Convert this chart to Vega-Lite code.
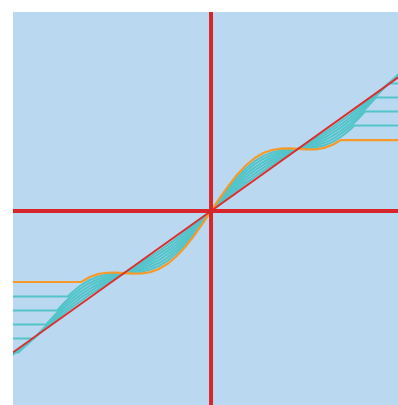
{
  "$schema": "https://vega.github.io/schema/vega-lite/v6.json",
  "width": 387,
  "height": 395,
  "padding": {"left": 11, "top": 10, "right": 0, "bottom": 0},
  "background": "white",
  "config": {"view": {"stroke": null, "fill": "#bad8ef"}},
  "datasets": {
    "curves": [
      {"x": -2.3, "o": -1.143, "c1": -1.377, "c2": -1.602, "c3": -1.828, "c4": -2.053, "c5": -2.278, "c6": -2.34},
      {"x": -2.214, "c5": -2.278},
      {"x": -2.2, "o": -1.143, "c1": -1.377, "c2": -1.602, "c3": -1.828, "c4": -2.053, "c5": -2.259, "c6": -2.229},
      {"x": -2.1, "o": -1.143, "c1": -1.377, "c2": -1.602, "c3": -1.828, "c4": -2.053, "c5": -2.131, "c6": -2.115},
      {"x": -2.036, "c4": -2.053},
      {"x": -2.0, "o": -1.143, "c1": -1.377, "c2": -1.602, "c3": -1.828, "c4": -2.0, "c5": -2.0, "c6": -2.0},
      {"x": -1.9, "o": -1.143, "c1": -1.377, "c2": -1.602, "c3": -1.828, "c4": -1.854, "c5": -1.869, "c6": -1.885},
      {"x": -1.894, "c3": -1.828},
      {"x": -1.8, "o": -1.143, "c1": -1.377, "c2": -1.602, "c3": -1.682, "c4": -1.712, "c5": -1.741, "c6": -1.771},
      {"x": -1.768, "c2": -1.602},
      {"x": -1.7, "o": -1.143, "c1": -1.377, "c2": -1.498, "c3": -1.538, "c4": -1.579, "c5": -1.619, "c6": -1.66},
      {"x": -1.646, "c1": -1.377},
      {"x": -1.6, "o": -1.143, "c1": -1.315, "c2": -1.362, "c3": -1.41, "c4": -1.457, "c5": -1.505, "c6": -1.552},
      {"x": -1.5, "o": -1.143, "c1": -1.2, "c2": -1.25, "c3": -1.3, "c4": -1.35, "c5": -1.4, "c6": -1.45},
      {"x": -1.49, "o": -1.143},
      {"x": -1.4, "o": -1.067, "c1": -1.115, "c2": -1.162, "c3": -1.21, "c4": -1.257, "c5": -1.305, "c6": -1.352},
      {"x": -1.3, "o": -1.017, "c1": -1.057, "c2": -1.098, "c3": -1.138, "c4": -1.179, "c5": -1.219, "c6": -1.26},
      {"x": -1.2, "o": -0.994, "c1": -1.024, "c2": -1.053, "c3": -1.082, "c4": -1.112, "c5": -1.141, "c6": -1.171},
      {"x": -1.1, "o": -0.992, "c1": -1.007, "c2": -1.023, "c3": -1.038, "c4": -1.054, "c5": -1.069, "c6": -1.085},
      {"x": -1.0, "o": -1.0, "c1": -1.0, "c2": -1.0, "c3": -1.0, "c4": -1.0, "c5": -1.0, "c6": -1.0},
      {"x": -0.9, "o": -1.008, "c1": -0.993, "c2": -0.977, "c3": -0.962, "c4": -0.946, "c5": -0.931, "c6": -0.915},
      {"x": -0.8, "o": -1.006, "c1": -0.976, "c2": -0.947, "c3": -0.918, "c4": -0.888, "c5": -0.859, "c6": -0.829},
      {"x": -0.7, "o": -0.983, "c1": -0.943, "c2": -0.902, "c3": -0.862, "c4": -0.821, "c5": -0.781, "c6": -0.74},
      {"x": -0.6, "o": -0.933, "c1": -0.885, "c2": -0.838, "c3": -0.79, "c4": -0.743, "c5": -0.695, "c6": -0.648},
      {"x": -0.5, "o": -0.85, "c1": -0.8, "c2": -0.75, "c3": -0.7, "c4": -0.65, "c5": -0.6, "c6": -0.55},
      {"x": -0.4, "o": -0.733, "c1": -0.685, "c2": -0.638, "c3": -0.59, "c4": -0.543, "c5": -0.495, "c6": -0.448},
      {"x": -0.3, "o": -0.583, "c1": -0.543, "c2": -0.502, "c3": -0.462, "c4": -0.421, "c5": -0.381, "c6": -0.34},
      {"x": -0.2, "o": -0.406, "c1": -0.376, "c2": -0.347, "c3": -0.318, "c4": -0.288, "c5": -0.259, "c6": -0.229},
      {"x": -0.1, "o": -0.208, "c1": -0.193, "c2": -0.177, "c3": -0.162, "c4": -0.146, "c5": -0.131, "c6": -0.115},
      {"x": 0, "o": 0, "c1": 0, "c2": 0, "c3": 0, "c4": 0, "c5": 0, "c6": 0},
      {"x": 0.1, "o": 0.208, "c1": 0.193, "c2": 0.177, "c3": 0.162, "c4": 0.146, "c5": 0.131, "c6": 0.115},
      {"x": 0.2, "o": 0.406, "c1": 0.376, "c2": 0.347, "c3": 0.318, "c4": 0.288, "c5": 0.259, "c6": 0.229},
      {"x": 0.3, "o": 0.583, "c1": 0.543, "c2": 0.502, "c3": 0.462, "c4": 0.421, "c5": 0.381, "c6": 0.34},
      {"x": 0.4, "o": 0.733, "c1": 0.685, "c2": 0.638, "c3": 0.59, "c4": 0.543, "c5": 0.495, "c6": 0.448},
      {"x": 0.5, "o": 0.85, "c1": 0.8, "c2": 0.75, "c3": 0.7, "c4": 0.65, "c5": 0.6, "c6": 0.55},
      {"x": 0.6, "o": 0.933, "c1": 0.885, "c2": 0.838, "c3": 0.79, "c4": 0.743, "c5": 0.695, "c6": 0.648},
      {"x": 0.7, "o": 0.983, "c1": 0.943, "c2": 0.902, "c3": 0.862, "c4": 0.821, "c5": 0.781, "c6": 0.74},
      {"x": 0.8, "o": 1.006, "c1": 0.976, "c2": 0.947, "c3": 0.918, "c4": 0.888, "c5": 0.859, "c6": 0.829},
      {"x": 0.9, "o": 1.008, "c1": 0.993, "c2": 0.977, "c3": 0.962, "c4": 0.946, "c5": 0.931, "c6": 0.915},
      {"x": 1.0, "o": 1.0, "c1": 1.0, "c2": 1.0, "c3": 1.0, "c4": 1.0, "c5": 1.0, "c6": 1.0},
      {"x": 1.1, "o": 0.992, "c1": 1.007, "c2": 1.023, "c3": 1.038, "c4": 1.054, "c5": 1.069, "c6": 1.085},
      {"x": 1.2, "o": 0.994, "c1": 1.024, "c2": 1.053, "c3": 1.082, "c4": 1.112, "c5": 1.141, "c6": 1.171},
      {"x": 1.3, "o": 1.017, "c1": 1.057, "c2": 1.098, "c3": 1.138, "c4": 1.179, "c5": 1.219, "c6": 1.26},
      {"x": 1.4, "o": 1.067, "c1": 1.115, "c2": 1.162, "c3": 1.21, "c4": 1.257, "c5": 1.305, "c6": 1.352},
      {"x": 1.49, "o": 1.143},
      {"x": 1.5, "o": 1.143, "c1": 1.2, "c2": 1.25, "c3": 1.3, "c4": 1.35, "c5": 1.4, "c6": 1.45},
      {"x": 1.6, "o": 1.143, "c1": 1.315, "c2": 1.362, "c3": 1.41, "c4": 1.457, "c5": 1.505, "c6": 1.552},
      {"x": 1.646, "c1": 1.377},
      {"x": 1.7, "o": 1.143, "c1": 1.377, "c2": 1.498, "c3": 1.538, "c4": 1.579, "c5": 1.619, "c6": 1.66},
      {"x": 1.768, "c2": 1.602},
      {"x": 1.8, "o": 1.143, "c1": 1.377, "c2": 1.602, "c3": 1.682, "c4": 1.712, "c5": 1.741, "c6": 1.771},
      {"x": 1.894, "c3": 1.828},
      {"x": 1.9, "o": 1.143, "c1": 1.377, "c2": 1.602, "c3": 1.828, "c4": 1.854, "c5": 1.869, "c6": 1.885},
      {"x": 2.0, "o": 1.143, "c1": 1.377, "c2": 1.602, "c3": 1.828, "c4": 2.0, "c5": 2.0, "c6": 2.0},
      {"x": 2.036, "c4": 2.053},
      {"x": 2.1, "o": 1.143, "c1": 1.377, "c2": 1.602, "c3": 1.828, "c4": 2.053, "c5": 2.131, "c6": 2.115},
      {"x": 2.2, "o": 1.143, "c1": 1.377, "c2": 1.602, "c3": 1.828, "c4": 2.053, "c5": 2.259, "c6": 2.229},
      {"x": 2.214, "c5": 2.278},
      {"x": 2.3, "o": 1.143, "c1": 1.377, "c2": 1.602, "c3": 1.828, "c4": 2.053, "c5": 2.278, "c6": 2.34}
    ],
    "diag": [{"x": -2.4, "y": -2.4}, {"x": 2.4, "y": 2.4}],
    "zero": [{"v": 0}]
  },
  "layer": [
    {
      "data": {"name": "curves"},
      "transform": [
        {"fold": ["c6", "c5", "c4", "c3", "c2", "c1"], "as": ["k", "y"]},
        {"filter": "isValid(datum.y)"}
      ],
      "mark": {"type": "line", "clip": true, "strokeWidth": 2.1, "color": "#52c4ca", "interpolate": "linear"},
      "encoding": {
        "x": {"field": "x", "type": "quantitative", "scale": {"domain": [-2.276, 2.172], "nice": false, "zero": false}, "axis": null},
        "y": {"field": "y", "type": "quantitative", "scale": {"domain": [-3.156, 3.205], "nice": false, "zero": false}, "axis": null},
        "detail": {"field": "k", "type": "nominal"}
      }
    },
    {
      "data": {"name": "curves"},
      "transform": [
        {"fold": ["o"], "as": ["k", "y"]},
        {"filter": "isValid(datum.y)"}
      ],
      "mark": {"type": "line", "clip": true, "strokeWidth": 2.2, "color": "#f59a2a"},
      "encoding": {
        "x": {"field": "x", "type": "quantitative"},
        "y": {"field": "y", "type": "quantitative"}
      }
    },
    {
      "data": {"name": "diag"},
      "mark": {"type": "line", "clip": true, "strokeWidth": 2, "color": "#dc2f2f"},
      "encoding": {
        "x": {"field": "x", "type": "quantitative"},
        "y": {"field": "y", "type": "quantitative"}
      }
    },
    {
      "data": {"name": "zero"},
      "mark": {"type": "rule", "strokeWidth": 4, "color": "#d7262b"},
      "encoding": {"x": {"field": "v", "type": "quantitative"}}
    },
    {
      "data": {"name": "zero"},
      "mark": {"type": "rule", "strokeWidth": 4, "color": "#d7262b"},
      "encoding": {"y": {"field": "v", "type": "quantitative"}}
    }
  ]
}
